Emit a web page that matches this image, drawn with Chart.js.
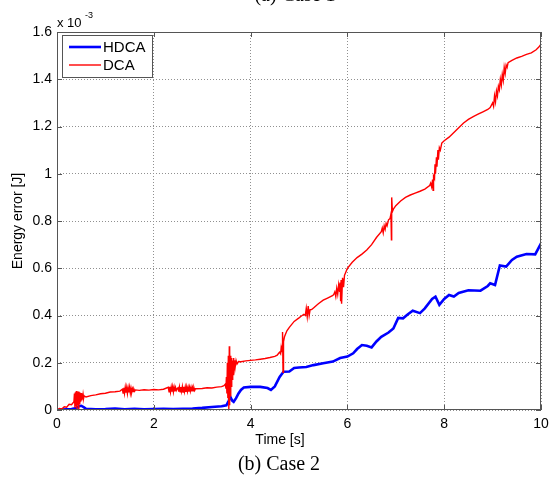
<!DOCTYPE html>
<html>
<head>
<meta charset="utf-8">
<script src="https://cdn.jsdelivr.net/npm/chart.js@4/dist/chart.umd.min.js"></script>
<style>
  html, body { margin: 0; padding: 0; background: #fff; }
  #wrap { width: 556px; height: 480px; position: relative; }
</style>
</head>
<body>
<div id="wrap"><canvas id="energy-chart" width="556" height="480"></canvas></div>
<script>
// Energy error in units of 1e-3 J, as [time, error] pairs
const hdcaPoints = [
  [0, 0], [0.1, 0.002], [0.3, 0.004], [0.4, 0.008], [0.45, 0.016], [0.5, 0.018], [0.55, 0.012], [0.6, 0.005],
  [0.8, 0.003], [1.0, 0.004], [1.2, 0.006], [1.4, 0.003], [1.6, 0.005], [1.8, 0.003], [2.0, 0.004], [2.2, 0.005],
  [2.4, 0.004], [2.6, 0.005], [2.8, 0.006], [3.0, 0.009], [3.2, 0.013], [3.4, 0.016], [3.5, 0.02], [3.55, 0.04],
  [3.58, 0.056], [3.62, 0.04], [3.65, 0.035], [3.7, 0.05], [3.75, 0.07], [3.8, 0.085], [3.86, 0.095], [4.0, 0.098],
  [4.2, 0.098], [4.35, 0.093], [4.42, 0.085], [4.5, 0.1], [4.6, 0.14], [4.68, 0.162], [4.8, 0.163], [4.9, 0.178],
  [5.0, 0.18], [5.15, 0.182], [5.3, 0.19], [5.5, 0.198], [5.7, 0.205], [5.85, 0.22], [6.0, 0.226], [6.12, 0.24],
  [6.2, 0.258], [6.3, 0.275], [6.4, 0.272], [6.5, 0.265], [6.6, 0.29], [6.7, 0.31], [6.85, 0.328], [6.95, 0.345],
  [7.05, 0.39], [7.15, 0.388], [7.25, 0.405], [7.35, 0.42], [7.5, 0.41], [7.6, 0.43], [7.75, 0.47], [7.82, 0.48],
  [7.9, 0.445], [8.0, 0.47], [8.1, 0.487], [8.2, 0.48], [8.3, 0.495], [8.5, 0.507], [8.75, 0.505], [8.9, 0.525],
  [8.95, 0.536], [9.05, 0.529], [9.15, 0.612], [9.28, 0.607], [9.4, 0.635], [9.5, 0.649], [9.7, 0.66], [9.88, 0.659],
  [10, 0.705],
];

const dcaPoints = [
  [0, 0], [0.05, 0.006], [0.1, 0.004], [0.15, 0.014], [0.2, 0.012], [0.25, 0.024], [0.3, 0.022],
  [0.35, 0.035], [0.36, 0.07], [0.37, 0.01], [0.38, 0.075], [0.39, 0.015], [0.40, 0.08], [0.41, 0.005],
  [0.42, 0.072], [0.43, 0.02], [0.44, 0.078], [0.45, 0.0], [0.46, 0.075], [0.47, 0.025], [0.48, 0.07],
  [0.49, 0.035], [0.50, 0.072], [0.51, 0.04], [0.52, 0.068], [0.53, 0.045], [0.54, 0.065], [0.55, 0.05],
  [0.56, 0.06], [0.6, 0.055], [0.7, 0.061], [0.8, 0.064], [0.9, 0.069], [1.0, 0.071], [1.1, 0.076], [1.2, 0.077],
  [1.3, 0.08],
  [1.35, 0.088], [1.365, 0.072], [1.38, 0.094], [1.395, 0.071], [1.41, 0.096], [1.425, 0.073], [1.44, 0.095],
  [1.455, 0.07], [1.47, 0.094], [1.485, 0.074], [1.5, 0.096], [1.515, 0.072], [1.53, 0.093], [1.545, 0.076],
  [1.56, 0.09], [1.575, 0.078], [1.59, 0.088], [1.605, 0.08], [1.62, 0.085],
  [1.7, 0.083], [1.8, 0.086], [1.9, 0.084], [2.0, 0.087], [2.1, 0.085], [2.2, 0.088],
  [2.30, 0.096], [2.315, 0.077], [2.33, 0.098], [2.345, 0.076], [2.36, 0.097], [2.375, 0.078], [2.39, 0.099],
  [2.405, 0.077], [2.42, 0.097], [2.435, 0.079], [2.45, 0.095], [2.465, 0.083], [2.48, 0.09], [2.5, 0.094],
  [2.515, 0.078], [2.53, 0.098], [2.545, 0.077], [2.56, 0.097], [2.575, 0.079], [2.59, 0.099], [2.605, 0.076],
  [2.62, 0.098], [2.635, 0.078], [2.65, 0.097], [2.665, 0.077], [2.68, 0.098], [2.695, 0.079], [2.71, 0.096],
  [2.725, 0.078], [2.74, 0.097], [2.755, 0.08], [2.77, 0.096], [2.785, 0.079], [2.8, 0.095], [2.815, 0.081],
  [2.83, 0.094], [2.845, 0.083], [2.86, 0.09],
  [3.0, 0.091], [3.1, 0.094], [3.2, 0.093], [3.3, 0.097], [3.4, 0.099], [3.45, 0.103],
  [3.48, 0.11], [3.49, 0.09], [3.5, 0.14], [3.51, 0.07], [3.52, 0.2], [3.53, 0.05], [3.54, 0.23], [3.55, 0.0],
  [3.56, 0.27], [3.565, 0.02], [3.57, 0.25], [3.58, 0.06], [3.59, 0.23], [3.6, 0.1], [3.61, 0.22], [3.62, 0.13],
  [3.63, 0.21], [3.64, 0.15], [3.65, 0.22], [3.66, 0.17], [3.67, 0.21], [3.68, 0.18], [3.7, 0.21], [3.72, 0.195],
  [3.75, 0.205], [3.8, 0.204], [3.9, 0.208], [4.0, 0.21], [4.1, 0.212], [4.2, 0.215], [4.3, 0.218], [4.4, 0.222],
  [4.5, 0.227], [4.55, 0.232], [4.58, 0.24], [4.6, 0.245], [4.62, 0.238], [4.63, 0.26], [4.64, 0.245],
  [4.65, 0.27], [4.66, 0.33], [4.67, 0.16], [4.68, 0.29], [4.7, 0.31], [4.75, 0.335], [4.8, 0.35], [4.9, 0.375],
  [5.0, 0.39], [5.05, 0.398],
  [5.1, 0.405], [5.13, 0.4], [5.15, 0.43], [5.17, 0.395], [5.19, 0.44], [5.21, 0.4], [5.23, 0.425], [5.26, 0.425],
  [5.3, 0.432], [5.4, 0.45], [5.5, 0.465], [5.6, 0.475], [5.7, 0.485],
  [5.72, 0.49], [5.74, 0.5], [5.76, 0.48], [5.78, 0.515], [5.8, 0.49], [5.82, 0.53], [5.84, 0.5], [5.85, 0.54],
  [5.86, 0.46], [5.87, 0.55], [5.88, 0.45], [5.9, 0.56], [5.92, 0.52], [5.94, 0.57], [5.96, 0.58],
  [6.0, 0.6], [6.1, 0.625], [6.2, 0.645], [6.3, 0.66], [6.4, 0.677], [6.5, 0.7], [6.6, 0.73],
  [6.7, 0.755], [6.72, 0.77], [6.74, 0.75], [6.76, 0.78], [6.78, 0.765], [6.8, 0.79], [6.82, 0.78], [6.85, 0.805],
  [6.88, 0.81], [6.9, 0.83], [6.91, 0.72], [6.915, 0.9], [6.93, 0.84], [6.95, 0.85],
  [7.0, 0.865], [7.1, 0.885], [7.2, 0.9], [7.3, 0.91], [7.4, 0.918], [7.5, 0.926], [7.6, 0.935],
  [7.7, 0.95], [7.72, 0.96], [7.74, 0.945], [7.76, 0.975], [7.77, 0.93], [7.78, 0.99], [7.8, 0.98], [7.81, 1.04],
  [7.82, 1.0], [7.84, 1.07], [7.85, 1.03], [7.87, 1.1], [7.88, 1.06], [7.9, 1.11], [7.92, 1.1], [7.95, 1.13],
  [8.0, 1.14], [8.1, 1.155], [8.2, 1.175], [8.3, 1.195], [8.4, 1.215], [8.5, 1.23], [8.6, 1.242], [8.7, 1.252],
  [8.8, 1.262], [8.9, 1.272], [8.95, 1.28],
  [9.0, 1.3], [9.02, 1.285], [9.04, 1.33], [9.06, 1.305], [9.08, 1.35], [9.1, 1.33], [9.12, 1.37], [9.14, 1.355],
  [9.16, 1.4], [9.18, 1.375], [9.2, 1.42], [9.22, 1.395], [9.24, 1.45], [9.26, 1.425], [9.28, 1.46], [9.3, 1.45],
  [9.32, 1.47], [9.4, 1.48], [9.5, 1.49], [9.6, 1.497], [9.7, 1.505], [9.8, 1.512], [9.9, 1.525], [9.95, 1.535],
  [10, 1.548],
];

const xTickLabels = ["0", "2", "4", "6", "8", "10"];
const yTickLabels = ["0", "0.2", "0.4", "0.6", "0.8", "1", "1.2", "1.4", "1.6"];

function toPoints(pairs) {
  return pairs.map((p) => ({ x: p[0], y: p[1] }));
}

const sans = "Arial, 'Liberation Sans', sans-serif";

// MATLAB-like extras: box, inward ticks, legend, exponent, x label and captions
const matlabLook = {
  id: "matlabLook",
  afterDraw(chart) {
    const ctx = chart.ctx;
    const area = chart.chartArea;
    const xs = chart.scales.x;
    const ys = chart.scales.y;
    ctx.save();

    // box
    ctx.strokeStyle = "#555";
    ctx.lineWidth = 1;
    ctx.strokeRect(area.left + 0.5, area.top + 0.5, area.right - area.left - 1, area.bottom - area.top - 1);

    // inward ticks
    ctx.beginPath();
    xs.ticks.forEach((t) => {
      const px = Math.round(xs.getPixelForValue(t.value)) + 0.5;
      ctx.moveTo(px, area.bottom);
      ctx.lineTo(px, area.bottom - 5);
      ctx.moveTo(px, area.top);
      ctx.lineTo(px, area.top + 5);
    });
    ys.ticks.forEach((t) => {
      const py = Math.round(ys.getPixelForValue(t.value)) + 0.5;
      ctx.moveTo(area.left, py);
      ctx.lineTo(area.left + 5, py);
      ctx.moveTo(area.right, py);
      ctx.lineTo(area.right - 5, py);
    });
    ctx.stroke();

    // exponent label
    ctx.fillStyle = "#000";
    ctx.textBaseline = "alphabetic";
    ctx.textAlign = "left";
    ctx.font = "13px " + sans;
    ctx.fillText("x 10", area.left, area.top - 5);
    ctx.font = "9px " + sans;
    ctx.fillText("-3", area.left + 28, area.top - 14);

    // x axis label (MATLAB puts it slightly left of centre here)
    ctx.font = "14px " + sans;
    ctx.textAlign = "center";
    ctx.textBaseline = "middle";
    ctx.fillText("Time [s]", 280, 440);

    // legend
    const lx = area.left + 5, ly = area.top + 3, lw = 90, lh = 42;
    ctx.textAlign = "left";
    ctx.fillStyle = "#fff";
    ctx.fillRect(lx, ly, lw, lh);
    ctx.strokeStyle = "#555";
    ctx.lineWidth = 1;
    ctx.strokeRect(lx + 0.5, ly + 0.5, lw, lh);
    chart.data.datasets.forEach((ds, i) => {
      const yy = ly + 12 + i * 18;
      ctx.strokeStyle = ds.borderColor;
      ctx.lineWidth = ds.borderWidth;
      ctx.beginPath();
      ctx.moveTo(lx + 7, yy);
      ctx.lineTo(lx + 39, yy);
      ctx.stroke();
      ctx.fillStyle = "#000";
      ctx.font = "15px " + sans;
      ctx.textBaseline = "middle";
      ctx.fillText(ds.label, lx + 41, yy + 1);
    });

    // captions of the surrounding figure
    ctx.fillStyle = "#000";
    ctx.textAlign = "center";
    ctx.textBaseline = "alphabetic";
    ctx.font = "20px 'Liberation Serif', 'DejaVu Serif', serif";
    ctx.fillText("(b) Case 2", 279, 470);
    ctx.fillText("(a) Case 1", 295, 1);
    ctx.font = "9px 'Liberation Serif', serif";
    ctx.textAlign = "left";
    ctx.fillText("5", 90, 486);
    ctx.restore();
  },
};

const ctx = document.getElementById("energy-chart").getContext("2d");
new Chart(ctx, {
  type: "line",
  data: {
    datasets: [
      {
        label: "HDCA",
        data: toPoints(hdcaPoints),
        borderColor: "#0000ff",
        borderWidth: 2.6,
        pointRadius: 0,
        tension: 0,
        order: 1,
      },
      {
        label: "DCA",
        data: toPoints(dcaPoints),
        borderColor: "#ff0000",
        borderWidth: 1.4,
        pointRadius: 0,
        tension: 0,
        order: 0,
      },
    ],
  },
  options: {
    responsive: false,
    animation: false,
    layout: { padding: { left: 0, right: 15, top: 32, bottom: 0 } },
    plugins: { legend: { display: false }, tooltip: { enabled: false } },
    scales: {
      x: {
        type: "linear",
        min: 0,
        max: 10,
        afterFit: (s) => { s.height = 70; },
        ticks: {
          stepSize: 2,
          padding: 6,
          color: "#000",
          font: { family: sans, size: 14 },
          callback: (v, i) => xTickLabels[i],
        },
        grid: { color: "#909090", drawTicks: false },
        border: { display: false, dash: [1, 2] },
      },
      y: {
        min: 0,
        max: 1.6,
        afterFit: (s) => { s.width = 57; },
        ticks: {
          stepSize: 0.2,
          padding: 5,
          color: "#000",
          font: { family: sans, size: 14 },
          callback: (v, i) => yTickLabels[i],
        },
        grid: { color: "#909090", drawTicks: false },
        border: { display: false, dash: [1, 2] },
        title: {
          display: true,
          text: "Energy error [J]",
          color: "#000",
          font: { family: sans, size: 14 },
          padding: { top: 10, bottom: 0 },
        },
      },
    },
  },
  plugins: [matlabLook],
});
</script>
</body>
</html>
